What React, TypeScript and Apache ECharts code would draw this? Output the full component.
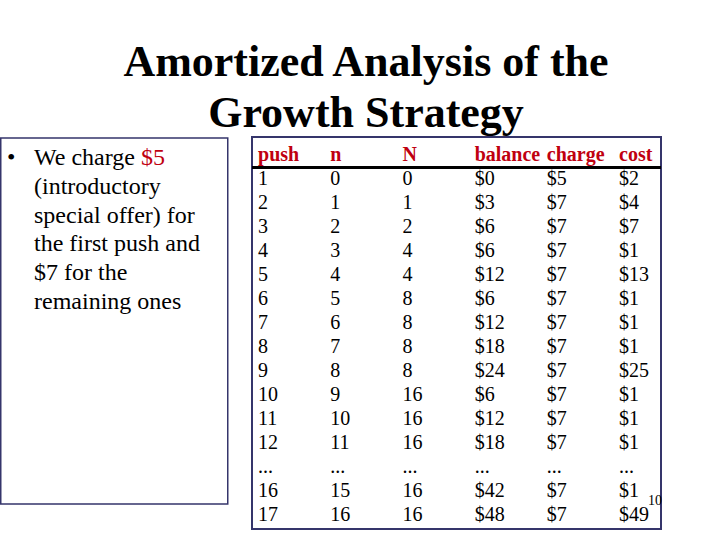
import React, { useEffect, useRef } from "react";
import * as echarts from "echarts";

// ---- content ----
const titleLines = ["Amortized Analysis of the", "Growth Strategy"];
const bulletLines = [
  "We charge {red|$5}",
  "(introductory",
  "special offer) for",
  "the first push and",
  "$7 for the",
  "remaining ones",
];
const headers = ["push", "n", "N", "balance", "charge", "cost"];
const pushCol: (number | string)[] = [1, 2, 3, 4, 5, 6, 7, 8, 9, 10, 11, 12, "...", 16, 17];
const nCol: (number | string)[] = [0, 1, 2, 3, 4, 5, 6, 7, 8, 9, 10, 11, "...", 15, 16];
const bigNCol: (number | string)[] = [0, 1, 2, 4, 4, 8, 8, 8, 8, 16, 16, 16, "...", 16, 16];
const balanceCol: (number | string)[] = [0, 3, 6, 6, 12, 6, 12, 18, 24, 6, 12, 18, "...", 42, 48];
const chargeCol: (number | string)[] = [5, 7, 7, 7, 7, 7, 7, 7, 7, 7, 7, 7, "...", 7, 7];
const costCol: (number | string)[] = [2, 4, 7, 1, 13, 1, 1, 1, 25, 1, 1, 1, "...", 1, 49];
const pageNumber = "10";

const columns = [pushCol, nCol, bigNCol, balanceCol, chargeCol, costCol];
const dollarCols = [false, false, false, true, true, true];

const SERIF = '"Liberation Serif", "Times New Roman", serif';
const BORDER = "#35356b";
const RED = "#c00010";

function fmt(v: number | string, dollar: boolean) {
  if (typeof v === "string") return v;
  return dollar ? "$" + v : String(v);
}

export default function App() {
  const ref = useRef<HTMLDivElement>(null);
  useEffect(() => {
    if (!ref.current) return;
    const chart = echarts.init(ref.current, null, { renderer: "svg" });

    const headerData = headers.map((h, i) => [i, 0, h]);
    const bodyData: any[] = [];
    columns.forEach((col, c) => {
      col.forEach((v, r) => bodyData.push([c, r + 1, fmt(v, dollarCols[c])]));
    });

    const labelBase = {
      show: true,
      position: "right",
      distance: 0,
      fontFamily: SERIF,
      fontSize: 20,
      opacity: 1,
      formatter: (p: any) => p.value[2],
    };

    chart.setOption({
      animation: false,
      backgroundColor: "#ffffff",
      grid: { left: 258, right: 101, top: 154, bottom: 26 },
      xAxis: { type: "value", min: 0, max: 5, show: false },
      yAxis: { type: "value", min: 0, max: 15, inverse: true, show: false },
      series: [
        {
          type: "scatter",
          data: headerData,
          symbolSize: 0.1,
          itemStyle: { color: "rgba(0,0,0,0)", opacity: 1 },
          silent: true,
          emphasis: { disabled: true },
          label: { ...labelBase, color: RED, fontWeight: "bold" },
        },
        {
          type: "scatter",
          data: bodyData,
          symbolSize: 0.1,
          itemStyle: { color: "rgba(0,0,0,0)", opacity: 1 },
          silent: true,
          emphasis: { disabled: true },
          label: { ...labelBase, color: "#000000" },
        },
      ],
      graphic: [
        {
          type: "rect",
          silent: true,
          shape: { x: 0.75, y: 138, width: 227, height: 366 },
          style: { fill: "none", stroke: BORDER, lineWidth: 1.5 },
        },
        {
          type: "rect",
          silent: true,
          shape: { x: 252, y: 137, width: 409, height: 392 },
          style: { fill: "none", stroke: BORDER, lineWidth: 2 },
        },
        {
          type: "line",
          silent: true,
          shape: { x1: 252, y1: 167.5, x2: 661, y2: 167.5 },
          style: { stroke: "#000000", lineWidth: 3 },
        },
        {
          type: "text",
          silent: true,
          x: 366,
          y: 61,
          z: 10,
          style: {
            text: titleLines[0],
            fontFamily: SERIF,
            fontSize: 44,
            fontWeight: "bold",
            fill: "#000000",
            align: "center",
            verticalAlign: "middle",
            textAlign: "center",
            textVerticalAlign: "middle",
          },
        },
        {
          type: "text",
          silent: true,
          x: 366,
          y: 112,
          z: 10,
          style: {
            text: titleLines[1],
            fontFamily: SERIF,
            fontSize: 44,
            fontWeight: "bold",
            fill: "#000000",
            align: "center",
            verticalAlign: "middle",
            textAlign: "center",
            textVerticalAlign: "middle",
          },
        },
        {
          type: "text",
          silent: true,
          x: 7,
          y: 143,
          style: {
            text: "\u2022",
            fontFamily: SERIF,
            fontSize: 24,
            lineHeight: 28.7,
            fill: "#000000",
            align: "left",
            verticalAlign: "top",
          },
        },
        {
          type: "text",
          silent: true,
          x: 34,
          y: 143,
          style: {
            text: bulletLines.join("\n"),
            fontFamily: SERIF,
            fontSize: 24,
            lineHeight: 28.7,
            fill: "#000000",
            align: "left",
            verticalAlign: "top",
            rich: {
              red: {
                fontFamily: SERIF,
                fontSize: 24,
                lineHeight: 28.7,
                fill: RED,
                color: RED,
              },
            },
          },
        },
        {
          type: "text",
          silent: true,
          x: 648,
          y: 500,
          style: {
            text: pageNumber,
            fontFamily: SERIF,
            fontSize: 14,
            fill: "#000000",
            align: "left",
            verticalAlign: "middle",
          },
        },
      ],
    });
    return () => chart.dispose();
  }, []);

  return (
    <div
      ref={ref}
      style={{ position: "fixed", left: 0, top: 0, width: 720, height: 540, background: "#fff" }}
    />
  );
}
